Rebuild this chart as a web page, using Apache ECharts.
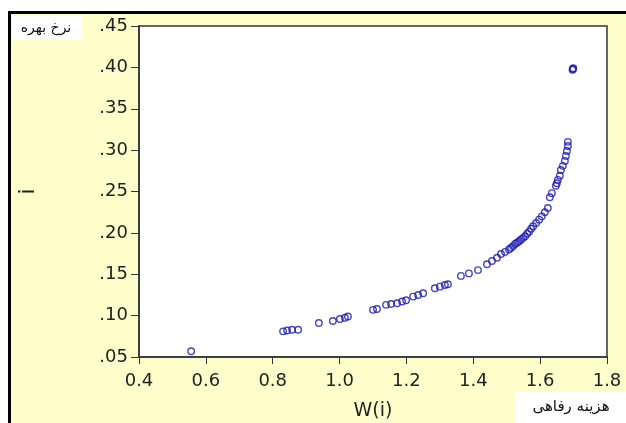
<!DOCTYPE html>
<html><head><meta charset="utf-8">
<script src="https://cdn.jsdelivr.net/npm/echarts@6/dist/echarts.min.js"></script>
<style>html,body{margin:0;padding:0;background:#fff;}#c{width:626px;height:423px;}</style>
</head><body><div id="c"></div>
<script>
const xValues = [0.556,0.831,0.843,0.858,0.876,0.938,0.980,1.001,1.016,1.025,1.100,1.112,1.139,1.154,1.172,1.187,1.199,1.220,1.235,1.250,1.285,1.300,1.315,1.324,1.363,1.387,1.414,1.441,1.456,1.471,1.483,1.495,1.507,1.513,1.519,1.525,1.531,1.537,1.543,1.549,1.555,1.561,1.567,1.573,1.579,1.588,1.597,1.605,1.614,1.623,1.629,1.635,1.647,1.650,1.653,1.659,1.662,1.668,1.674,1.677,1.680,1.683,1.683,1.697,1.698,1.699];
const yValues = [0.057,0.081,0.082,0.083,0.083,0.091,0.0935,0.096,0.0975,0.099,0.107,0.108,0.113,0.114,0.115,0.117,0.1185,0.123,0.125,0.127,0.133,0.135,0.137,0.138,0.148,0.151,0.155,0.162,0.166,0.170,0.1745,0.177,0.180,0.182,0.184,0.1865,0.188,0.190,0.192,0.194,0.196,0.199,0.2015,0.205,0.208,0.212,0.216,0.220,0.225,0.230,0.243,0.248,0.257,0.260,0.264,0.269,0.276,0.281,0.287,0.293,0.299,0.305,0.310,0.397,0.398,0.399];
const xTicks = [0.4,0.6,0.8,1.0,1.2,1.4,1.6,1.8];
const yTicks = [0.05,0.10,0.15,0.20,0.25,0.30,0.35,0.40,0.45];
const xAxisTitle = 'W(i)';
const yAxisTitle = 'i';
const yCornerLabel = 'نرخ بهره';
const xCornerLabel = 'هزینه رفاهی';

const points = xValues.map((x, i) => [x, yValues[i]]);
const chart = echarts.init(document.getElementById('c'));
const lblFont = 'DejaVu Sans, sans-serif';
chart.setOption({
  animation: false,
  backgroundColor: '#ffffff',
  graphic: [
    { type: 'rect', z: -10, shape: { x: 9.5, y: 12.5, width: 640, height: 440 },
      style: { fill: '#FFFFCC', stroke: '#000', lineWidth: 3 } },
    { type: 'rect', z: 10, shape: { x: 12, y: 16, width: 70, height: 24 }, style: { fill: '#fff' } },
    { type: 'text', z: 11, x: 46, y: 28, style: { text: yCornerLabel, font: '14px DejaVu Sans', fill: '#111', align: 'center', verticalAlign: 'middle' } },
    { type: 'rect', z: 10, shape: { x: 515, y: 392, width: 111, height: 31 }, style: { fill: '#fff' } },
    { type: 'text', z: 11, x: 571, y: 407, style: { text: xCornerLabel, font: '15px DejaVu Sans', fill: '#111', align: 'center', verticalAlign: 'middle' } }
  ],
  grid: { left: 139, top: 26, right: 19, bottom: 66, outerBoundsMode: 'none', containLabel: false, show: true, backgroundColor: '#fff', borderColor: '#333', borderWidth: 1.5 },
  xAxis: {
    type: 'value', min: 0.4, max: 1.8, interval: 0.2,
    name: xAxisTitle, nameLocation: 'middle', nameGap: 45,
    nameTextStyle: { fontFamily: lblFont, fontSize: 19, color: '#222' },
    axisLine: { lineStyle: { color: '#333', width: 1.5 } },
    axisTick: { show: true, length: 7, lineStyle: { color: '#333' } },
    axisLabel: { fontFamily: lblFont, fontSize: 18, color: '#222', margin: 15, formatter: v => v.toFixed(1) },
    splitLine: { show: false }
  },
  yAxis: {
    type: 'value', min: 0.05, max: 0.45, interval: 0.05,
    name: yAxisTitle, nameLocation: 'middle', nameGap: 100, nameRotate: 90,
    nameTextStyle: { fontFamily: lblFont, fontSize: 22, color: '#222' },
    axisLine: { lineStyle: { color: '#333', width: 1.5 } },
    axisTick: { show: true, length: 8, lineStyle: { color: '#333' } },
    axisLabel: { fontFamily: lblFont, fontSize: 18, color: '#222', margin: 11, formatter: v => v.toFixed(2).replace(/^0/, '') },
    splitLine: { show: false }
  },
  series: [{
    type: 'scatter', data: points, symbol: 'circle', symbolSize: 6.5,
    itemStyle: { color: 'rgba(255,255,255,0)', borderColor: '#1616b0', borderWidth: 1.4 }
  }]
});
</script></body></html>
